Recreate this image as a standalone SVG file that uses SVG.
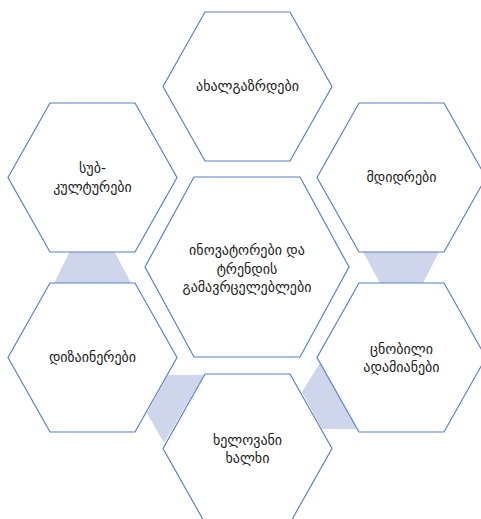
<svg xmlns="http://www.w3.org/2000/svg" width="481" height="519" viewBox="0 0 481 519">
<defs>
<style>
.hex{fill:#ffffff;stroke:#5b80c8;stroke-width:1.2}
.link{fill:#cfd5ea;stroke:none}
text{font-family:"DejaVu Sans","Noto Sans",sans-serif;font-size:14px;fill:#1a1a1a;text-anchor:middle}
</style>
<polygon id="hs" points="-42.5,-74.5 42.5,-74.5 84.5,0 42.5,74.5 -42.5,74.5 -84.5,0"/>
</defs>
<rect width="481" height="519" fill="#ffffff"/>
<g id="connectors">
<polygon class="link" points="70,251 114,251 131,283 54,283"/>
<polygon class="link" points="363,252 439,252 423,283 380,283"/>
<polygon class="link" points="168,375 204,375 164,443 147,413"/>
<polygon class="link" points="320,363 357,429 322,429 302,392"/>
</g>
<g id="center">
<polygon class="hex" points="194,177 300,177 349,267 300,357 194,357 145,267"/>
<text x="247" y="255">ინოვატორები და</text>
<text x="247" y="273.5">ტრენდის</text>
<text x="247" y="292">გამავრცელებლები</text>
</g>
<g id="top">
<use href="#hs" class="hex" x="247.5" y="86.5"/>
<text x="247.5" y="91">ახალგაზრდები</text>
</g>
<g id="upper-left">
<use href="#hs" class="hex" x="92.5" y="177.5"/>
<text x="92.5" y="173">სუბ-</text>
<text x="92.5" y="192">კულტურები</text>
</g>
<g id="upper-right">
<use href="#hs" class="hex" x="401.5" y="177.5"/>
<text x="401.5" y="182">მდიდრები</text>
</g>
<g id="lower-left">
<use href="#hs" class="hex" x="92.5" y="357.5"/>
<text x="92.5" y="362">დიზაინერები</text>
</g>
<g id="lower-right">
<use href="#hs" class="hex" x="401.5" y="357.5"/>
<text x="401.5" y="354">ცნობილი</text>
<text x="401.5" y="372">ადამიანები</text>
</g>
<g id="bottom">
<use href="#hs" class="hex" x="247.5" y="448.5"/>
<text x="247.5" y="445">ხელოვანი</text>
<text x="247.5" y="463">ხალხი</text>
</g>
</svg>
